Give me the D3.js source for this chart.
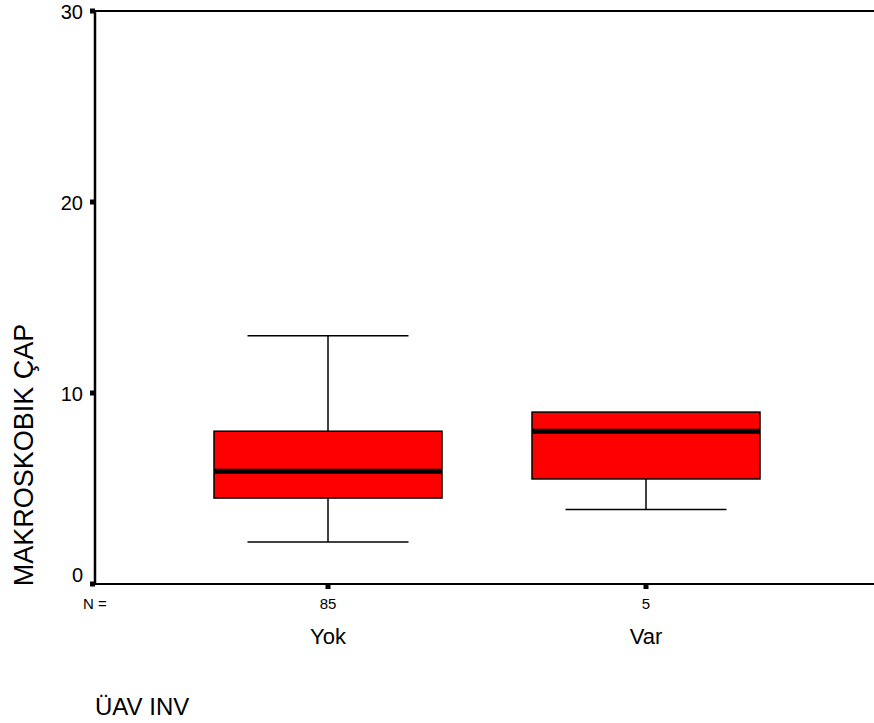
<!DOCTYPE html>
<html lang="en">
<head>
<meta charset="utf-8">
<title>MAKROSKOBIK ÇAP boxplot</title>
<script src="https://d3js.org/d3.v7.min.js"></script>
<style type="text/css">
body { margin: 0; background: #fff; }
svg  { display: block; font-family: "Liberation Sans", Arial, sans-serif; }
</style>
</head>
<body>
<script type="text/javascript">

// data
var groups   = ["Yok", "Var"];
var counts   = [85, 5];
var lowWhisk = [2.2, 3.9];
var q1       = [4.5, 5.5];
var median   = [5.9, 8.0];
var q3       = [8.0, 9.0];
var highWhisk= [13.0, 9.0];
var yTicks   = [0, 10, 20, 30];

var W = 874, H = 723;
var plotLeft = 95, plotTop = 11, plotBottom = 584;

var svg = d3.select("body").append("svg")
    .attr("width", W)
    .attr("height", H);

var y = d3.scaleLinear().domain([0, 30]).range([plotBottom, plotTop]);
var x = d3.scaleBand().domain(groups).range([169, 805]);

var boxW = 228, capW = 161;

var rows = groups.map(function(g, i) {
  return { g: g, n: counts[i], lo: lowWhisk[i], q1: q1[i], med: median[i], q3: q3[i], hi: highWhisk[i] };
});

function cx(d) { return x(d.g) + x.bandwidth() / 2; }

// plot frame: left, top and bottom lines
svg.append("line").attr("x1", plotLeft).attr("x2", W).attr("y1", plotTop).attr("y2", plotTop)
   .attr("stroke", "#000").attr("stroke-width", 2);
svg.append("line").attr("x1", plotLeft).attr("x2", W).attr("y1", plotBottom).attr("y2", plotBottom)
   .attr("stroke", "#000").attr("stroke-width", 2);
svg.append("line").attr("x1", plotLeft).attr("x2", plotLeft).attr("y1", plotTop).attr("y2", plotBottom)
   .attr("stroke", "#000").attr("stroke-width", 2.5);

// y ticks (small squares) and labels
svg.selectAll(".ytick").data(yTicks).enter().append("rect")
   .attr("class", "ytick")
   .attr("x", plotLeft - 5).attr("y", function(d) { return y(d) - 2.5; })
   .attr("width", 5).attr("height", 5).attr("fill", "#000");

svg.selectAll(".ylab").data(yTicks).enter().append("text")
   .attr("class", "ylab")
   .attr("x", 83)
   .attr("y", function(d) { return d === 0 ? y(d) - 2 : y(d) + 8; })
   .attr("text-anchor", "end")
   .attr("font-size", 20)
   .text(function(d) { return d; });

// x ticks
svg.selectAll(".xtick").data(rows).enter().append("rect")
   .attr("class", "xtick")
   .attr("x", function(d) { return cx(d) - 2.5; }).attr("y", plotBottom)
   .attr("width", 5).attr("height", 5).attr("fill", "#000");

// whiskers
var g = svg.selectAll(".box").data(rows).enter().append("g").attr("class", "box");

g.append("line")
 .attr("x1", cx).attr("x2", cx)
 .attr("y1", function(d) { return y(d.hi); }).attr("y2", function(d) { return y(d.q3); })
 .attr("stroke", "#000").attr("stroke-width", 1.5);
g.append("line")
 .attr("x1", cx).attr("x2", cx)
 .attr("y1", function(d) { return y(d.q1); }).attr("y2", function(d) { return y(d.lo); })
 .attr("stroke", "#000").attr("stroke-width", 1.5);
g.filter(function(d) { return d.hi > d.q3; }).append("line")
 .attr("x1", function(d) { return cx(d) - capW / 2; }).attr("x2", function(d) { return cx(d) + capW / 2; })
 .attr("y1", function(d) { return y(d.hi); }).attr("y2", function(d) { return y(d.hi); })
 .attr("stroke", "#000").attr("stroke-width", 1.5);
g.append("line")
 .attr("x1", function(d) { return cx(d) - capW / 2; }).attr("x2", function(d) { return cx(d) + capW / 2; })
 .attr("y1", function(d) { return y(d.lo); }).attr("y2", function(d) { return y(d.lo); })
 .attr("stroke", "#000").attr("stroke-width", 1.5);

// boxes
g.append("rect")
 .attr("x", function(d) { return cx(d) - boxW / 2; })
 .attr("y", function(d) { return y(d.q3); })
 .attr("width", boxW)
 .attr("height", function(d) { return y(d.q1) - y(d.q3); })
 .attr("fill", "#ff0000").attr("stroke", "#000").attr("stroke-width", 1.5);

// medians
g.append("line")
 .attr("x1", function(d) { return cx(d) - boxW / 2; }).attr("x2", function(d) { return cx(d) + boxW / 2; })
 .attr("y1", function(d) { return y(d.med); }).attr("y2", function(d) { return y(d.med); })
 .attr("stroke", "#000").attr("stroke-width", 5);

// N counts and category labels
svg.append("text").attr("x", 83).attr("y", 609).attr("font-size", 15).text("N =");
svg.selectAll(".nlab").data(rows).enter().append("text")
   .attr("x", cx).attr("y", 609).attr("text-anchor", "middle").attr("font-size", 15)
   .text(function(d) { return d.n; });
svg.selectAll(".xlab").data(rows).enter().append("text")
   .attr("x", cx).attr("y", 644).attr("text-anchor", "middle").attr("font-size", 22)
   .text(function(d) { return d.g; });

// axis titles
svg.append("text").attr("x", 95).attr("y", 715).attr("font-size", 24).text("ÜAV INV");
svg.append("text")
   .attr("transform", "translate(33,455) rotate(-90)")
   .attr("text-anchor", "middle").attr("font-size", 27)
   .text("MAKROSKOBIK ÇAP");

</script>
</body>
</html>
